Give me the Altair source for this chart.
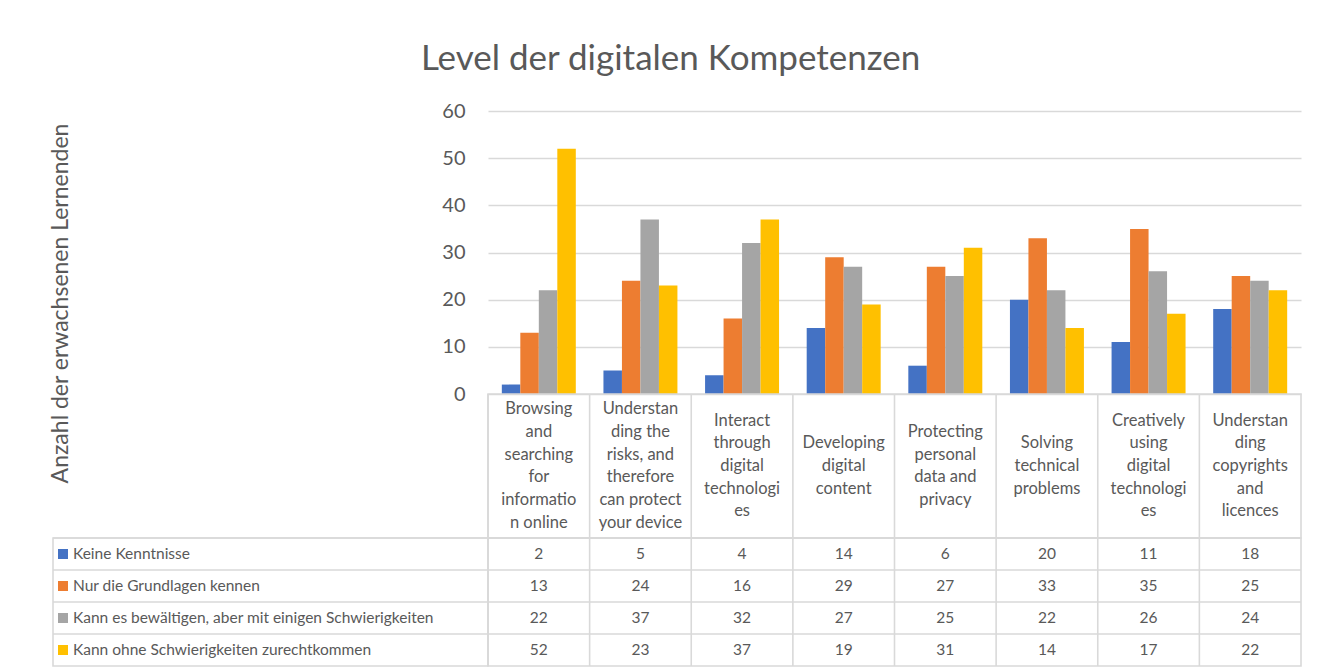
import altair as alt
import pandas as pd

categories = [
    "Browsing\nand\nsearching\nfor\ninformatio\nn online",
    "Understan\nding the\nrisks, and\ntherefore\ncan protect\nyour device",
    "Interact\nthrough\ndigital\ntechnologi\nes",
    "Developing\ndigital\ncontent",
    "Protecting\npersonal\ndata and\nprivacy",
    "Solving\ntechnical\nproblems",
    "Creatively\nusing\ndigital\ntechnologi\nes",
    "Understan\nding\ncopyrights\nand\nlicences",
]
series = [
    "Keine Kenntnisse",
    "Nur die Grundlagen kennen",
    "Kann es bewältigen, aber mit einigen Schwierigkeiten",
    "Kann ohne Schwierigkeiten zurechtkommen",
]
keine = [2, 5, 4, 14, 6, 20, 11, 18]
nur = [13, 24, 16, 29, 27, 33, 35, 25]
kann_es = [22, 37, 32, 27, 25, 22, 26, 24]
kann_ohne = [52, 23, 37, 19, 31, 14, 17, 22]
colors = ["#4472C4", "#ED7D31", "#A5A5A5", "#FFC000"]
y_ticks = [0, 10, 20, 30, 40, 50, 60]

rows = []
for s, vals in zip(series, [keine, nur, kann_es, kann_ohne]):
    for c, v in zip(categories, vals):
        rows.append({"cat": c, "series": s, "value": v})
df = pd.DataFrame(rows)
cat_df = pd.DataFrame({"cat": categories})
ser_df = pd.DataFrame({"series": series})

TXT = "#595959"
LINE = "#d9d9d9"
PW = 813
LW = 435
BH = 283
HH = 144
TH = 128
LH = 22.7

color_scale = alt.Scale(domain=series, range=colors)
band0 = alt.Scale(domain=categories, paddingInner=0, paddingOuter=0)
ser_scale = alt.Scale(domain=series, paddingInner=0, paddingOuter=0)
table_view = alt.ViewBackground(stroke=LINE, strokeWidth=1.6)

bars = alt.Chart(df).mark_bar().encode(
    x=alt.X("cat:N", sort=categories,
            scale=alt.Scale(domain=categories, paddingInner=0.272, paddingOuter=0.136),
            axis=None),
    xOffset=alt.XOffset("series:N", sort=series,
                        scale=alt.Scale(domain=series, paddingInner=0, paddingOuter=0)),
    y=alt.Y("value:Q", scale=alt.Scale(domain=[0, 60], nice=False),
            axis=alt.Axis(values=y_ticks, grid=True, gridColor=LINE, gridWidth=1.3,
                          domain=False, ticks=False, labelFontSize=20, labelColor=TXT,
                          labelPadding=23, title="Anzahl der erwachsenen Lernenden",
                          titleFontSize=23, titleColor=TXT, titleFontWeight="normal",
                          titleX=-421, titleY=192, titleAngle=270,
                          titleBaseline="alphabetic", titleAlign="center")),
    color=alt.Color("series:N", scale=color_scale, legend=None),
).properties(width=PW, height=BH)

header_lines = alt.Chart(cat_df).mark_rule(color=LINE, strokeWidth=1.6).encode(
    x=alt.X("cat:N", scale=band0, axis=None, bandPosition=0),
)
header_text = alt.Chart(cat_df).transform_calculate(
    off="(length(split(datum.cat, '\\n')) - 1) / 2"
).mark_text(
    fontSize=16.5, lineHeight=LH, lineBreak="\n", baseline="middle", align="center", color=TXT
).encode(
    x=alt.X("cat:N", scale=band0, axis=None),
    y=alt.Y("off:Q", scale=alt.Scale(domain=[-HH / 2 / LH, HH / 2 / LH], nice=False, zero=False),
            axis=None),
    text="cat:N",
)
header = alt.layer(header_lines, header_text, view=table_view).properties(width=PW, height=HH)

v_lines = alt.Chart(cat_df).mark_rule(color=LINE, strokeWidth=1.6).encode(
    x=alt.X("cat:N", scale=band0, axis=None, bandPosition=0),
)
h_lines = alt.Chart(ser_df).mark_rule(color=LINE, strokeWidth=1.6).encode(
    y=alt.Y("series:N", scale=ser_scale, axis=None, bandPosition=0),
)
values_text = alt.Chart(df).mark_text(fontSize=15.5, color=TXT, baseline="middle").encode(
    x=alt.X("cat:N", scale=band0, axis=None),
    y=alt.Y("series:N", scale=ser_scale, axis=None),
    text="value:Q",
)
values = alt.layer(v_lines, h_lines, values_text, view=table_view).properties(width=PW, height=TH)

lab_lines = alt.Chart(ser_df).mark_rule(color=LINE, strokeWidth=1.6).encode(
    y=alt.Y("series:N", scale=ser_scale, axis=None, bandPosition=0),
)
swatch = alt.Chart(ser_df).mark_square(size=100, opacity=1).encode(
    x=alt.value(10),
    y=alt.Y("series:N", scale=ser_scale, axis=None),
    color=alt.Color("series:N", scale=color_scale, legend=None),
)
lab_text = alt.Chart(ser_df).mark_text(align="left", baseline="middle", fontSize=15.5, color=TXT).encode(
    x=alt.value(20),
    y=alt.Y("series:N", scale=ser_scale, axis=None),
    text="series:N",
)
labels = alt.layer(lab_lines, swatch, lab_text, view=table_view).properties(width=LW, height=TH)

blank1 = alt.Chart(cat_df).mark_text().encode(text=alt.value("")).properties(width=LW, height=BH)
blank2 = alt.Chart(cat_df).mark_text().encode(text=alt.value("")).properties(width=LW, height=HH)

chart = alt.concat(
    blank1, bars, blank2, header, labels, values,
    columns=2, spacing=0, bounds="flush",
).properties(
    title=alt.Title("Level der digitalen Kompetenzen", fontSize=35, color=TXT,
                    fontWeight="normal", font="Lato", anchor="middle", dx=-5, offset=24),
    padding={"left": 40, "top": 33, "right": 10, "bottom": 0},
).configure(font="Lato").configure_view(stroke="transparent").configure_axis(
    labelFont="Lato", titleFont="Lato"
).configure_text(font="Lato")

chart.save("out.html", embed_options={"renderer": "svg", "actions": False})
